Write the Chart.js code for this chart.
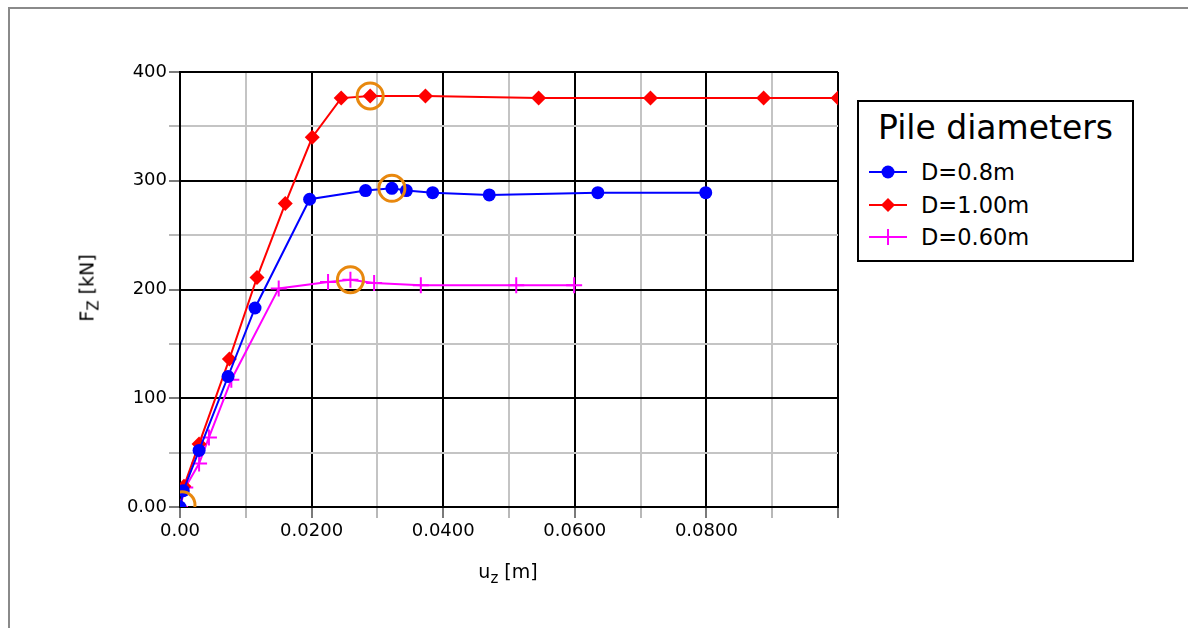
<!DOCTYPE html>
<html>
<head>
<meta charset="utf-8">
<script src="https://cdn.jsdelivr.net/npm/chart.js@4.4.1/dist/chart.umd.min.js"></script>
<style>
  body { margin: 0; background: #fff; font-family: "DejaVu Sans", sans-serif; }
  #wrap { position: relative; width: 1188px; height: 628px; overflow: hidden; }
  #frame { position: absolute; left: 8px; top: 7px; width: 1300px; height: 700px;
           border-left: 2px solid #8a8a8a; border-top: 2px solid #8a8a8a; }
  #c { position: absolute; left: 0; top: 0; }
  .atitle { position: absolute; font-size: 19px; white-space: nowrap; color: #000; }
  .atitle sub { font-size: 15px; vertical-align: -5px; }
  #ytitle { left: 89px; top: 288px; transform: translate(-50%, -50%) rotate(-90deg); }
  #xtitle { left: 508px; top: 573px; transform: translate(-50%, -50%); }
  #legend { position: absolute; left: 857px; top: 100px; width: 273px; height: 158px;
            border: 2px solid #000; background: #fff; }
  #legend .ttl { position: absolute; left: 0; right: 0; top: 6px; text-align: center; font-size: 33px; }
  #legend .row { position: absolute; left: 10px; height: 30px; display: flex; align-items: center; font-size: 22.5px; }
  #legend .row svg { margin-right: 14px; }
</style>
</head>
<body>
<div id="wrap">
  <div id="frame"></div>
  <canvas id="c" width="1188" height="628"></canvas>
  <div id="ytitle" class="atitle">F<sub>Z</sub> [kN]</div>
  <div id="xtitle" class="atitle">u<sub>z</sub> [m]</div>
  <div id="legend"><div class="ttl">Pile diameters</div></div>
</div>
<script>
// settlement u_z [m] and axial force F_Z [kN]
const d08U = [0, 0.0005, 0.0029, 0.0073, 0.0114, 0.0197, 0.0282, 0.0322, 0.0344, 0.0384, 0.0470, 0.0635, 0.0799];
const d08F = [0, 15, 52, 120, 183, 283, 291, 293, 291, 289, 287, 289, 289];

const d100U = [0, 0.0006, 0.0029, 0.0075, 0.0117, 0.0160, 0.0201, 0.0245, 0.0289, 0.0373, 0.0545, 0.0715, 0.0887, 0.1000];
const d100F = [0, 19, 58, 136, 211, 279, 340, 376, 378, 378, 376, 376, 376, 376];

const d060U = [0, 0.0008, 0.0029, 0.0044, 0.0078, 0.0150, 0.0225, 0.0259, 0.0295, 0.0366, 0.0511, 0.0599];
const d060F = [0, 18, 40, 64, 117, 201, 207, 209, 206, 204, 204, 204];

// highlighted points (orange rings)
const markU = [0.0289, 0.0322, 0.0259, 0.0003];
const markF = [378, 293, 209, 2];

const seriesNames = ['D=0.8m', 'D=1.00m', 'D=0.60m'];
const seriesColors = ['#0000ff', '#ff0000', '#ff00ff'];
const xTickLabels = ['0.00', '0.0200', '0.0400', '0.0600', '0.0800'];
const yTickLabels = ['0.00', '100', '200', '300', '400'];

const pts = (us, fs) => us.map((u, i) => ({ x: u, y: fs[i] }));

// legend (HTML, outside the canvas)
const legendEl = document.getElementById('legend');
const icons = [
  c => `<circle cx="19" cy="10" r="6.5" fill="${c}"/>`,
  c => `<polygon points="19,3 26,10 19,17 12,10" fill="${c}"/>`,
  c => `<line x1="19" y1="2" x2="19" y2="18" stroke="${c}" stroke-width="2"/>`,
];
seriesNames.forEach((name, i) => {
  const row = document.createElement('div');
  row.className = 'row';
  row.style.top = (55 + i * 32.5) + 'px';
  row.innerHTML = `<svg width="38" height="20"><line x1="0" y1="10" x2="38" y2="10" stroke="${seriesColors[i]}" stroke-width="2"/>${icons[i](seriesColors[i])}</svg>${name}`;
  legendEl.appendChild(row);
});

const major = v => Math.abs(v * 50 - Math.round(v * 50)) < 1e-6;

new Chart(document.getElementById('c'), {
  type: 'line',
  data: {
    datasets: [
      {
        label: 'marks', data: pts(markU, markF), showLine: false, order: -1,
        pointStyle: 'circle', pointRadius: 13, pointBorderWidth: 3,
        pointBorderColor: '#e8880e', pointBackgroundColor: 'rgba(0,0,0,0)',
      },
      {
        label: seriesNames[0], data: pts(d08U, d08F), borderColor: seriesColors[0], borderWidth: 2,
        pointStyle: 'circle', pointRadius: 6.5, pointBackgroundColor: seriesColors[0], pointBorderWidth: 0,
      },
      {
        label: seriesNames[1], data: pts(d100U, d100F), borderColor: seriesColors[1], borderWidth: 2,
        pointStyle: 'rectRot', pointRadius: 7.5, pointBackgroundColor: seriesColors[1], pointBorderWidth: 0,
      },
      {
        label: seriesNames[2], data: pts(d060U, d060F), borderColor: seriesColors[2], borderWidth: 2,
        pointStyle: 'cross', pointRadius: 8, pointBorderColor: seriesColors[2], pointBorderWidth: 2,
      },
    ],
  },
  options: {
    responsive: false, animation: false,
    layout: { autoPadding: false, padding: { left: 0, top: 72, right: 350, bottom: 0 } },
    plugins: { legend: { display: false }, tooltip: { enabled: false } },
    elements: { line: { tension: 0 } },
    scales: {
      x: {
        type: 'linear', min: 0, max: 0.1,
        border: { color: '#000', width: 2 },
        grid: {
          lineWidth: 2, tickLength: 11,
          color: c => major(c.tick.value) ? '#000' : '#c4c4c4',
          tickColor: c => major(c.tick.value) ? '#7a7a7a' : '#b8b8b8',
        },
        ticks: {
          stepSize: 0.01, autoSkip: false, maxRotation: 0, padding: 3, color: '#000',
          font: { family: 'DejaVu Sans', size: 18 },
          callback: v => {
            const i = Math.round(v * 50);
            return major(v) && i < xTickLabels.length ? xTickLabels[i] : '';
          },
        },
        afterFit: s => { s.height = 121; },
      },
      y: {
        min: 0, max: 400,
        border: { color: '#000', width: 2 },
        grid: {
          lineWidth: 2, tickLength: 11,
          color: c => c.tick.value % 100 === 0 ? '#000' : '#c4c4c4',
          tickColor: c => c.tick.value % 100 === 0 ? '#7a7a7a' : '#b8b8b8',
        },
        ticks: {
          stepSize: 50, padding: 2, color: '#000',
          font: { family: 'DejaVu Sans', size: 18 },
          callback: v => v % 100 === 0 ? yTickLabels[v / 100] : '',
        },
        afterFit: s => { s.width = 180; },
      },
    },
  },
});
</script>
</body>
</html>
